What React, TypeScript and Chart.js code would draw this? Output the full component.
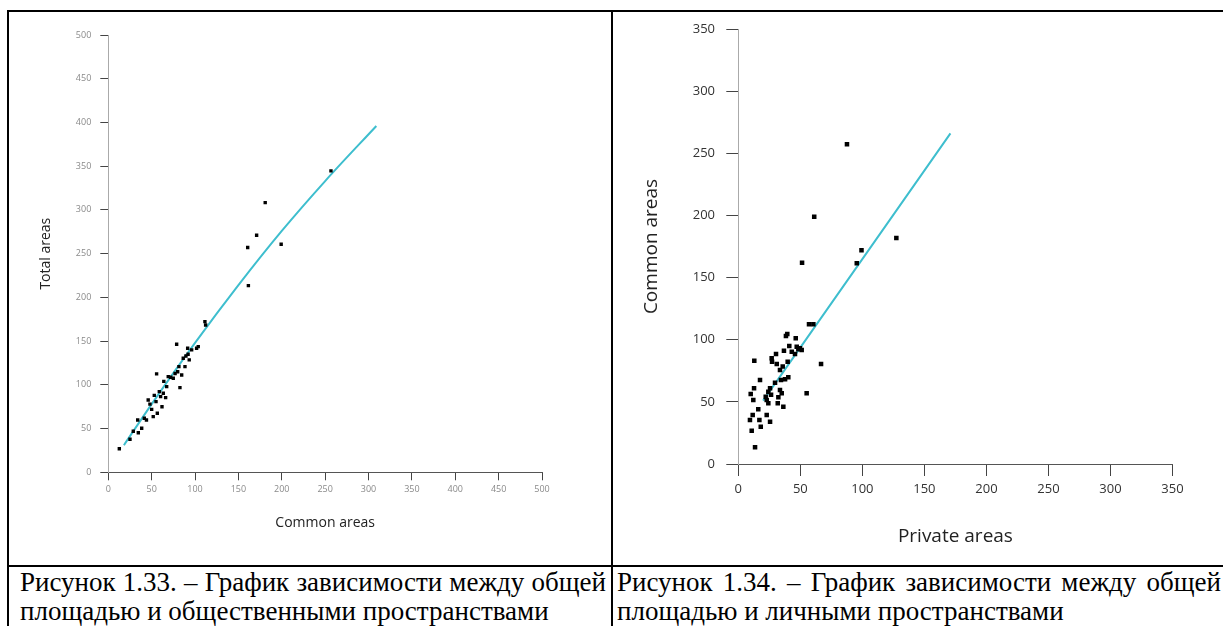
import React, { useEffect, useRef } from "react";
import { Chart, registerables } from "chart.js";

Chart.register(...registerables);

// ---- Figure 1.33: Common areas (x) vs Total areas (y)
const leftCommon = [12.7, 25, 28.8, 33.9, 34.6, 38.5, 41.5, 44, 46, 50, 51.8, 55, 56.5, 55.7, 58.8, 60.3, 61.9, 63.4, 66.1, 67.3, 69.1, 71.9, 74.9, 78.8, 80, 81.4, 82.6, 84.6, 86.4, 88.4, 89.5, 91.5, 93.3, 96.1, 101.8, 103.7, 111.4, 112.2, 161.5, 160.7, 171, 180.9, 199.3, 256.7, 48, 53, 64, 77, 92];
const leftTotal = [27, 37.8, 47, 59.8, 45.3, 50.3, 61.8, 59.8, 82.7, 72, 63.6, 80.8, 67.5, 112.5, 92.2, 86.5, 75, 90.4, 85.4, 98, 109.4, 108.7, 107.5, 146.4, 115, 120.8, 96.8, 111.3, 130.4, 120.8, 133, 141.8, 128.5, 140, 141.8, 143.7, 172.3, 168.5, 213.5, 257, 271.1, 308.4, 260.8, 344.7, 78, 88, 104, 113, 135];
const leftFitX = [18, 50, 100, 150, 200, 250, 309];
const leftFitY = [31, 78, 148, 214, 276, 333, 396];
const leftAxisMax = 500;

// ---- Figure 1.34: Private areas (x) vs Common areas (y)
const rightPrivate = [13.5, 10.8, 9.4, 11.6, 16.1, 17, 18.1, 22.9, 25.6, 10, 12.1, 12.7, 17.5, 12.9, 22.1, 22.9, 24.2, 24.2, 25.6, 26.4, 26.9, 27.2, 30.4, 31, 29.6, 31.8, 32.3, 33.6, 34.4, 35, 33.6, 35.8, 36.8, 36.3, 37.7, 38.4, 39.5, 39.8, 40.3, 41.1, 43.1, 46.3, 45.7, 47.1, 48.4, 49.7, 51.1, 55.1, 57, 60.5, 66.7, 87.6, 61.2, 51.4, 99.3, 95.5, 127.4];
const rightCommon = [13.4, 26.8, 35.4, 39.4, 44, 35.4, 30, 39.4, 34, 56.3, 51.5, 60.9, 67.6, 83.1, 54.1, 51.5, 48.8, 58.2, 60.9, 55.7, 85.1, 82.3, 88.5, 80.5, 65.4, 48.8, 53.7, 59.5, 67.6, 56.9, 75.6, 78.4, 91.1, 46.1, 68.1, 103, 104.6, 82.3, 69.8, 94.9, 90.3, 101.1, 88.5, 94.4, 92.3, 93.1, 91.7, 56.9, 112.4, 112.4, 80.4, 257.2, 199, 162, 171.9, 161.5, 181.8];
const rightFitX = [20, 171];
const rightFitY = [51, 266];
const rightAxisMax = 350;

const tickStep = 50;
const FIT_COLOR = "rgb(62, 190, 206)";

type Spec = {
  xs: number[]; ys: number[]; fx: number[]; fy: number[]; max: number;
  xTitle: string; yTitle: string;
  pad: { top: number; right: number };
  yWidth: number; xHeight: number;
  tickLen: number; tickFont: number; tickColor: string;
  xTickPad: number; yTickPad: number;
  titleFont: number; xTitlePad: number; yTitlePad: number;
  pointR: number;
};

function makeChart(canvas: HTMLCanvasElement, s: Spec) {
  const pts = s.xs.map((x, i) => ({ x, y: s.ys[i] }));
  const fit = s.fx.map((x, i) => ({ x, y: s.fy[i] }));
  const axisBase = (title: string, isX: boolean) => ({
    type: "linear" as const,
    min: 0,
    max: s.max,
    ticks: {
      stepSize: tickStep,
      font: { family: "'Open Sans', sans-serif", size: s.tickFont },
      color: s.tickColor,
      padding: isX ? s.xTickPad : s.yTickPad,
    },
    grid: {
      display: true,
      drawOnChartArea: false,
      drawTicks: true,
      tickLength: s.tickLen,
      tickColor: "#444",
      tickWidth: 1,
    },
    border: { display: true, color: isX ? "#555" : "#aaa", width: 1 },
    title: {
      display: true,
      text: title,
      color: "#222",
      font: { family: "'Open Sans', sans-serif", size: s.titleFont, weight: "normal" as const },
      padding: isX ? { top: 0, bottom: s.xTitlePad } : { top: s.yTitlePad, bottom: 0 },
    },
    afterFit: (scale: any) => {
      if (isX) scale.height = s.xHeight;
      else scale.width = s.yWidth;
    },
  });
  return new Chart(canvas, {
    type: "scatter",
    data: {
      datasets: [
        {
          data: pts,
          pointStyle: "rect",
          pointRadius: s.pointR,
          pointBackgroundColor: "#000",
          pointBorderColor: "#000",
          pointBorderWidth: 0,
          showLine: false,
        },
        {
          data: fit,
          showLine: true,
          borderColor: FIT_COLOR,
          borderWidth: 2,
          pointRadius: 0,
          tension: 0.4,
          cubicInterpolationMode: "monotone",
        },
      ],
    },
    options: {
      animation: false,
      responsive: false,
      devicePixelRatio: 1,
      layout: { padding: { top: s.pad.top, right: s.pad.right, left: 0, bottom: 0 } },
      plugins: { legend: { display: false }, tooltip: { enabled: false }, title: { display: false } },
      scales: {
        x: axisBase(s.xTitle, true),
        y: axisBase(s.yTitle, false),
      },
    } as any,
  });
}

export default function App() {
  const leftRef = useRef<HTMLCanvasElement>(null);
  const rightRef = useRef<HTMLCanvasElement>(null);

  useEffect(() => {
    const c1 = makeChart(leftRef.current!, {
      xs: leftCommon, ys: leftTotal, fx: leftFitX, fy: leftFitY, max: leftAxisMax,
      xTitle: "Common areas", yTitle: "Total areas",
      pad: { top: 35, right: 68 },
      yWidth: 108.3, xHeight: 92.7,
      tickLen: 8, tickFont: 9, tickColor: "#8a8a8a",
      xTickPad: 3.3, yTickPad: 9,
      titleFont: 14, xTitlePad: 33.6, yTitlePad: 37.6,
      pointR: 2.4,
    });
    const c2 = makeChart(rightRef.current!, {
      xs: rightPrivate, ys: rightCommon, fx: rightFitX, fy: rightFitY, max: rightAxisMax,
      xTitle: "Private areas", yTitle: "Common areas",
      pad: { top: 29, right: 50.5 },
      yWidth: 127.3, xHeight: 101,
      tickLen: 12, tickFont: 13, tickColor: "#333",
      xTickPad: 5.2, yTickPad: 11.3,
      titleFont: 19, xTitlePad: 16.9, yTitlePad: 29.6,
      pointR: 3.2,
    });
    return () => {
      c1.destroy();
      c2.destroy();
    };
  }, []);

  const line: React.CSSProperties = {
    position: "absolute",
    fontFamily: "'Liberation Serif', 'Times New Roman', serif",
    fontSize: 27,
    lineHeight: "30px",
    color: "#000",
    textAlign: "justify",
    whiteSpace: "nowrap",
  };
  const bar = (l: number, t: number, w: number, h: number): React.CSSProperties => ({
    position: "absolute", left: l, top: t, width: w, height: h, background: "#000",
  });

  return (
    <div style={{ position: "absolute", left: 0, top: 0, width: 1223, height: 626, background: "#fff", overflow: "hidden" }}>
      <canvas ref={leftRef} width={610} height={565} style={{ position: "absolute", left: 0, top: 0 }} />
      <canvas ref={rightRef} width={612} height={565} style={{ position: "absolute", left: 611, top: 0 }} />
      <div style={bar(7, 10, 1216, 2)} />
      <div style={bar(7, 10, 2, 616)} />
      <div style={bar(611, 10, 2, 616)} />
      <div style={bar(7, 565, 1216, 2)} />
      <div style={{ ...line, left: 20, top: 567, width: 586, textAlignLast: "justify" }}>
        Рисунок 1.33. – График зависимости между общей
      </div>
      <div style={{ ...line, left: 20, top: 596, width: 586 }}>
        площадью и общественными пространствами
      </div>
      <div style={{ ...line, left: 617, top: 567, width: 604, textAlignLast: "justify" }}>
        Рисунок 1.34. – График зависимости между общей
      </div>
      <div style={{ ...line, left: 617, top: 596, width: 604 }}>
        площадью и личными пространствами
      </div>
    </div>
  );
}
